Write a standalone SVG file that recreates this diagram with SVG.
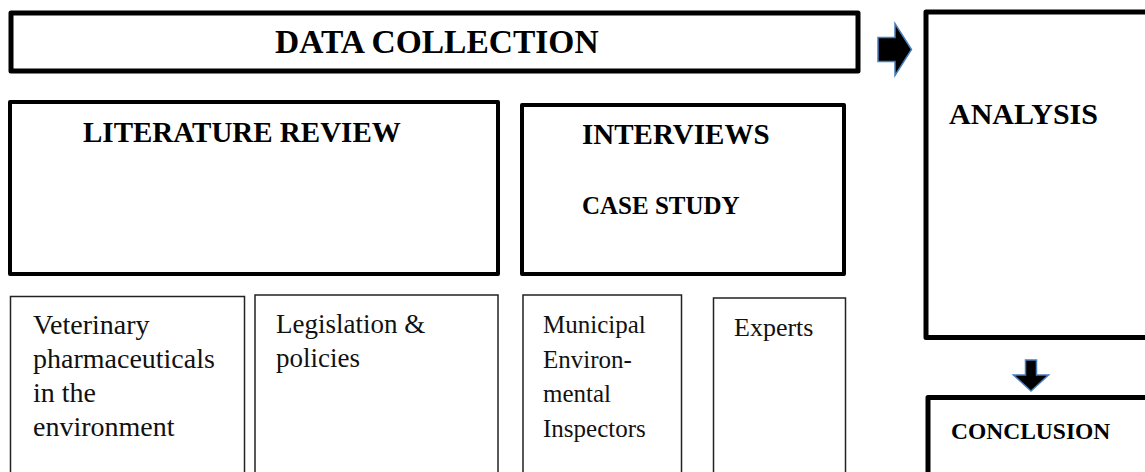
<svg xmlns="http://www.w3.org/2000/svg" width="1145" height="472" viewBox="0 0 1145 472">
<style>
.thick{fill:#fff;stroke:#000;stroke-width:5;stroke-linejoin:round}
.mid{fill:#fff;stroke:#000;stroke-width:4;stroke-linejoin:round}
.thin{fill:#fff;stroke:#222;stroke-width:1.5}
.hd{font-family:"Liberation Serif","Times New Roman",serif;font-weight:bold;fill:#000}
.bd{font-family:"Liberation Serif","Times New Roman",serif;fill:#111}
.arr{fill:#000;stroke:#4a7ebb;stroke-width:1.5;stroke-linejoin:miter}
</style>
<rect width="1145" height="472" fill="#fff"/>
<g id="data-collection">
<rect class="thick" x="11" y="13" width="847" height="58"/>
<text class="hd" x="275" y="53" font-size="33.5">DATA COLLECTION</text>
</g>
<g id="literature-review">
<rect class="mid" x="10" y="102" width="488" height="172"/>
<text class="hd" x="83" y="142" font-size="29">LITERATURE REVIEW</text>
</g>
<g id="interviews">
<rect class="mid" x="522" y="105" width="322" height="169"/>
<text class="hd" x="582" y="144" font-size="29">INTERVIEWS</text>
<text class="hd" x="582" y="214" font-size="25">CASE STUDY</text>
</g>
<g id="analysis">
<rect class="thick" x="926" y="12" width="300" height="325.5"/>
<text class="hd" x="949" y="124" font-size="30">ANALYSIS</text>
</g>
<g id="conclusion">
<rect class="thick" x="928" y="397.5" width="300" height="120"/>
<text class="hd" x="951" y="439" font-size="23.5">CONCLUSION</text>
</g>
<g id="veterinary">
<rect class="thin" x="10.5" y="296.5" width="234" height="200"/>
<text class="bd" font-size="28"><tspan x="33" y="334">Veterinary</tspan><tspan x="33" y="368">pharmaceuticals</tspan><tspan x="33" y="402">in the</tspan><tspan x="33" y="436">environment</tspan></text>
</g>
<g id="legislation">
<rect class="thin" x="255" y="295" width="243" height="200"/>
<text class="bd" font-size="27"><tspan x="276" y="333">Legislation &amp;</tspan><tspan x="276" y="367">policies</tspan></text>
</g>
<g id="inspectors">
<rect class="thin" x="523" y="295" width="158.5" height="200"/>
<text class="bd" font-size="25"><tspan x="543" y="333">Municipal</tspan><tspan x="543" y="368">Environ-</tspan><tspan x="543" y="402">mental</tspan><tspan x="543" y="437">Inspectors</tspan></text>
</g>
<g id="experts">
<rect class="thin" x="713.5" y="298" width="132" height="200"/>
<text class="bd" x="734" y="336" font-size="26">Experts</text>
</g>
<g id="connectors">
<polygon class="arr" points="878,37.5 895,37.5 895,23.5 911.5,49.5 895,75.5 895,61.5 878,61.5"/>
<polygon class="arr" points="1025.5,360 1036.5,360 1036.5,375 1048.5,375 1031,391 1013.5,375 1025.5,375"/>
</g>
</svg>
